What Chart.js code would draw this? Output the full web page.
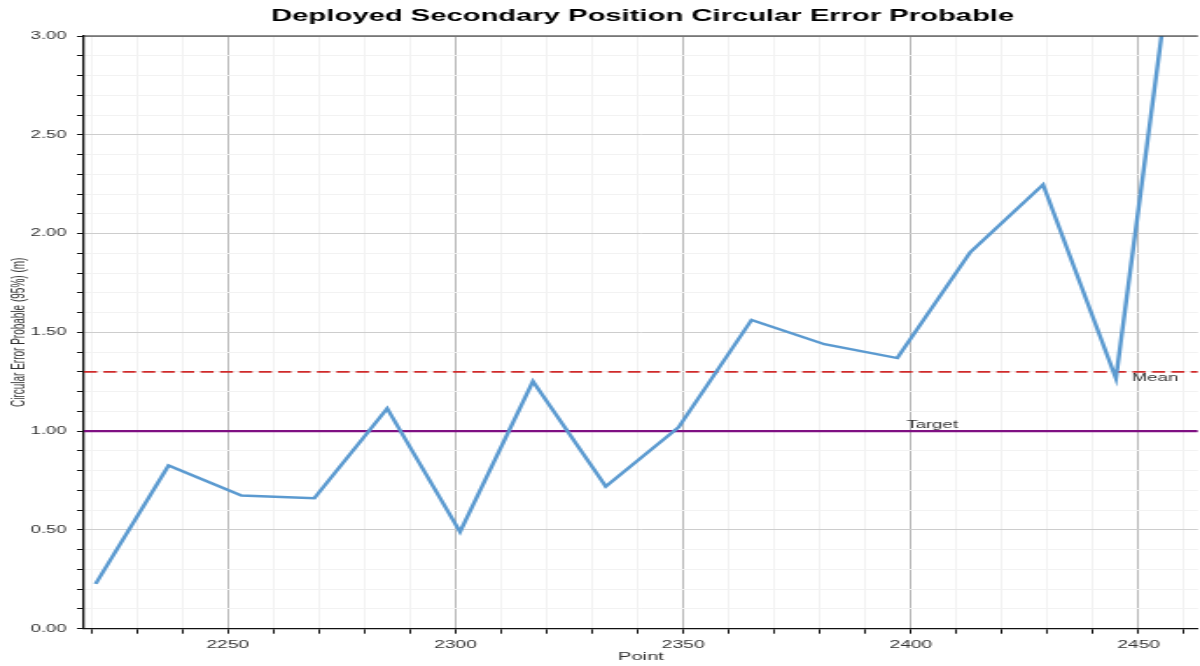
<!DOCTYPE html>
<html>
<head>
<meta charset="utf-8">
<script src="https://cdn.jsdelivr.net/npm/chart.js@4.4.1/dist/chart.umd.min.js"></script>
<style>
  html, body { margin: 0; padding: 0; background: #fff; overflow: hidden; }
  #wrap { position: absolute; left: 0; top: 0; width: 686px; height: 666px;
          transform: scaleX(1.74927); transform-origin: 0 0; }
</style>
</head>
<body>
<div id="wrap"><canvas id="c"></canvas></div>
<script>
// ---- data ----
const chartTitle = 'Deployed Secondary Position Circular Error Probable';
const xTitle = 'Point';
const yTitle = 'Circular Error Probable (95%) (m)';
const points = [2221, 2237, 2253, 2269, 2285, 2301, 2317, 2333, 2349, 2365, 2381, 2397, 2413, 2429, 2445, 2461];
const cepValues = [0.227, 0.826, 0.674, 0.66, 1.115, 0.49, 1.252, 0.72, 1.02, 1.563, 1.44, 1.37, 1.905, 2.248, 1.267, 4.04];
const meanValue = 1.30;
const targetValue = 1.00;
const meanLabel = 'Mean';
const targetLabel = 'Target';
const meanLabelX = 2448.5;
const targetLabelX = 2399.0;
const xRange = [2218.44, 2463.0];
const yRange = [0, 3];
const xMajorTicks = [2250, 2300, 2350, 2400, 2450];
const yMajorTicks = [0, 0.5, 1.0, 1.5, 2.0, 2.5, 3.0];

const isMajorX = v => xMajorTicks.some(m => Math.abs(m - v) < 1e-6);
const isMajorY = v => yMajorTicks.some(m => Math.abs(m - v) < 1e-6);

const FONT = "'Liberation Sans', Arial, Helvetica, sans-serif";

const refLines = {
  id: 'refLines',
  beforeDatasetsDraw(chart) {
    const {ctx, chartArea: a, scales: {x, y}} = chart;
    ctx.save();
    ctx.beginPath(); ctx.rect(a.left, a.top, a.right - a.left, a.bottom - a.top); ctx.clip();
    const ty = y.getPixelForValue(targetValue);
    ctx.strokeStyle = '#7f1082'; ctx.lineWidth = 2.4; ctx.setLineDash([]);
    ctx.beginPath(); ctx.moveTo(a.left, ty); ctx.lineTo(a.right, ty); ctx.stroke();
    const my = y.getPixelForValue(meanValue);
    ctx.strokeStyle = '#cf2a2a'; ctx.lineWidth = 1.8; ctx.setLineDash([7.5, 3.6]);
    ctx.beginPath(); ctx.moveTo(a.left, my); ctx.lineTo(a.right, my); ctx.stroke();
    ctx.restore();
  },
  afterDatasetsDraw(chart) {
    const {ctx, scales: {x, y}} = chart;
    ctx.save();
    ctx.font = '10.6px ' + FONT;
    ctx.fillStyle = '#333';
    ctx.textAlign = 'left';
    ctx.textBaseline = 'alphabetic';
    ctx.fillText(targetLabel, x.getPixelForValue(targetLabelX), y.getPixelForValue(targetValue) - 3);
    ctx.fillText(meanLabel, x.getPixelForValue(meanLabelX), y.getPixelForValue(meanValue) + 9);
    ctx.restore();
  },
  afterDraw(chart) {
    const {ctx, chartArea: a} = chart;
    ctx.save();
    ctx.strokeStyle = '#222'; ctx.lineWidth = 1.2;
    ctx.beginPath(); ctx.moveTo(a.left, a.top); ctx.lineTo(a.right, a.top); ctx.stroke();
    ctx.font = 'bold 16.7px ' + FONT;
    ctx.fillStyle = '#000';
    ctx.textAlign = 'center';
    ctx.textBaseline = 'alphabetic';
    ctx.fillText(chartTitle, (a.left + a.right) / 2 + 1, 21);
    ctx.restore();
  }
};

new Chart(document.getElementById('c'), {
  type: 'line',
  data: {
    datasets: [{
      label: 'CEP',
      data: points.map((p, i) => ({x: p, y: cepValues[i]})),
      borderColor: '#5b9ad0',
      borderWidth: 2.4,
      pointRadius: 0,
      tension: 0,
      fill: false
    }]
  },
  options: {
    responsive: true,
    maintainAspectRatio: false,
    animation: false,
    devicePixelRatio: 1,
    layout: { padding: { top: 36, left: 0, right: 0, bottom: 0 } },
    plugins: { legend: { display: false }, tooltip: { enabled: false }, title: { display: false } },
    scales: {
      x: {
        type: 'linear',
        min: xRange[0], max: xRange[1],
        afterFit(s) { s.height = 37.3; },
        afterBuildTicks(s) {
          const t = [];
          for (let v = Math.ceil(xRange[0] / 10) * 10; v <= xRange[1]; v += 10) t.push({value: v});
          s.ticks = t;
        },
        ticks: {
          autoSkip: false, maxRotation: 0,
          padding: 4.5,
          color: '#333',
          font: { family: FONT, size: 11 },
          callback: v => isMajorX(v) ? String(v) : ''
        },
        grid: {
          color: c => (c.tick && isMajorX(c.tick.value)) ? '#b9b9b9' : '#f2f2f2',
          lineWidth: 1,
          tickColor: '#111',
          tickLength: 5,
          tickWidth: 1
        },
        border: { display: true, color: '#111', width: 1.3 },
        title: { display: true, text: xTitle, color: '#333', font: { family: FONT, size: 11.5 }, padding: { top: 0, bottom: 2.6 } }
      },
      y: {
        type: 'linear',
        min: yRange[0], max: yRange[1],
        afterFit(s) { s.width = 48; },
        afterBuildTicks(s) {
          const t = [];
          for (let i = 0; i <= 30; i++) t.push({value: i / 10});
          s.ticks = t;
        },
        ticks: {
          autoSkip: false,
          padding: 6,
          color: '#333',
          font: { family: FONT, size: 10.5 },
          callback: v => isMajorY(v) ? Number(v).toFixed(2) : ''
        },
        grid: {
          color: c => (c.tick && isMajorY(c.tick.value)) ? '#cdcdcd' : '#f2f2f2',
          lineWidth: 1,
          tickColor: '#111',
          tickLength: 4,
          tickWidth: 1
        },
        border: { display: true, color: '#111', width: 1.3 },
        title: { display: true, text: yTitle, color: '#333', font: { family: FONT, size: 10 }, padding: { top: 5, bottom: 0 } }
      }
    }
  },
  plugins: [refLines]
});
</script>
</body>
</html>
